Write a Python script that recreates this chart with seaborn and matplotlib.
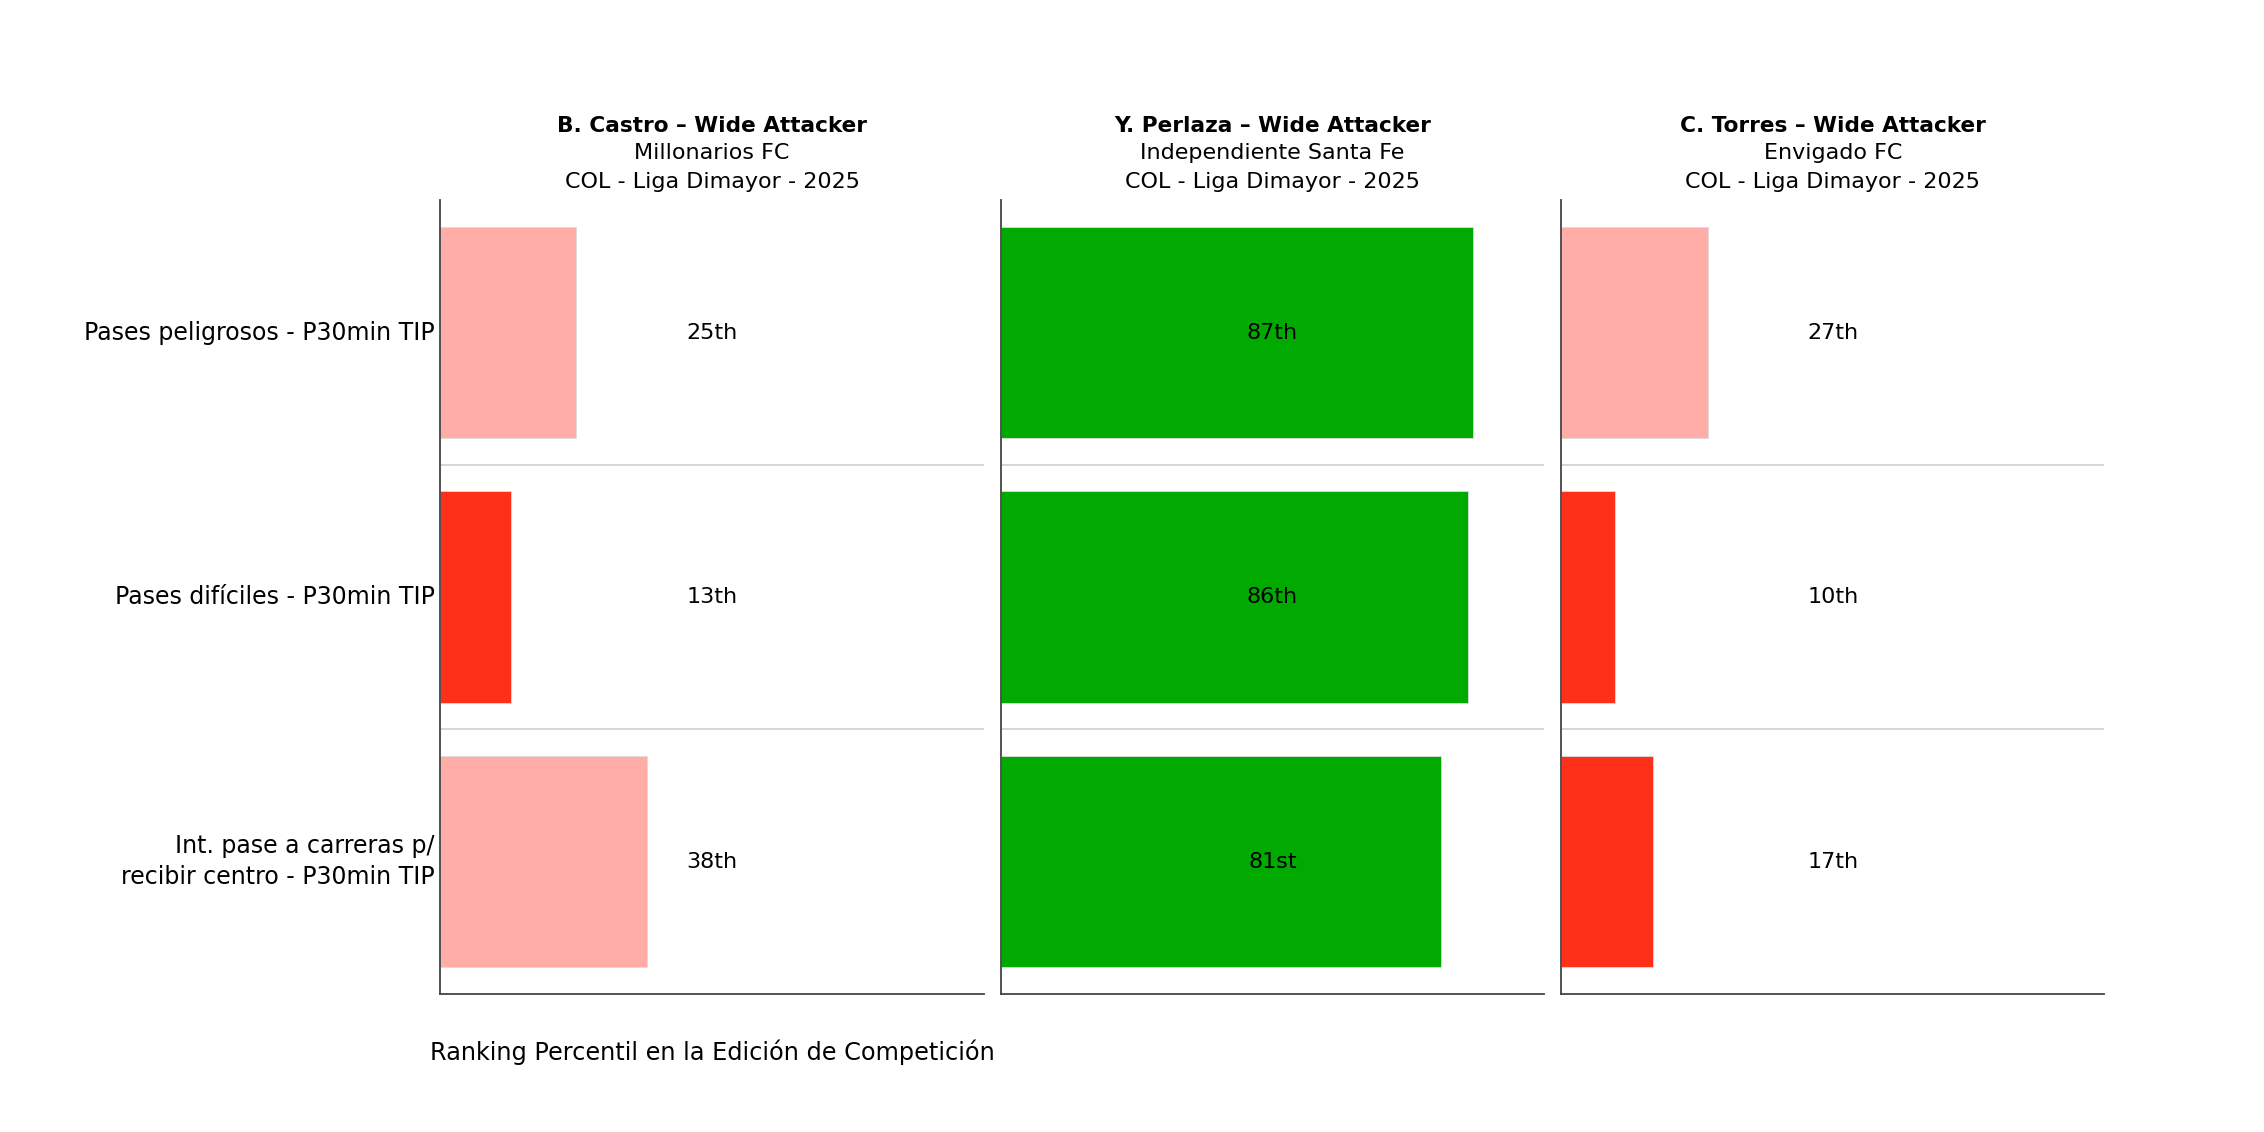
import matplotlib
matplotlib.use("Agg")
import matplotlib.pyplot as plt
import seaborn as sns
import pandas as pd

# === DATA ===
METRICS = ["Pases peligrosos - P30min TIP",
           "Pases difíciles - P30min TIP",
           "Int. pase a carreras p/\nrecibir centro - P30min TIP"]
PLAYERS = ["B. Castro – Wide Attacker", "Y. Perlaza – Wide Attacker", "C. Torres – Wide Attacker"]
TEAMS = ["Millonarios FC", "Independiente Santa Fe", "Envigado FC"]
COMPETITION = "COL - Liga Dimayor - 2025"
castro = [25, 13, 38]
perlaza = [87, 86, 81]
torres = [27, 10, 17]
VALUES = [castro, perlaza, torres]
XLABEL = "Ranking Percentil en la Edición de Competición"


def ordinal(n):
    if 10 <= n % 100 <= 20:
        suf = "th"
    else:
        suf = {1: "st", 2: "nd", 3: "rd"}.get(n % 10, "th")
    return f"{n}{suf}"


def bar_color(v):
    if v < 20:
        return "#ff301a"
    if v < 40:
        return "#ffada6"
    if v < 60:
        return "#bbbbbb"
    if v < 80:
        return "#7fd37f"
    return "#00aa00"


sns.set_style("white")
plt.rcParams["font.family"] = ["DejaVu Sans"]
plt.rcParams["text.color"] = "black"
plt.rcParams["ytick.color"] = "black"
plt.rcParams["axes.labelcolor"] = "black"

fig = plt.figure(figsize=(22.64, 11.32), dpi=100)
lefts = [0.1945, 0.442, 0.6895]
axes = [fig.add_axes([l, 0.122, 0.24, 0.701]) for l in lefts]

for i, ax in enumerate(axes):
    vals = VALUES[i]
    df = pd.DataFrame({"metric": METRICS, "value": vals})
    colors = [bar_color(v) for v in vals]
    sns.barplot(data=df, x="value", y="metric", hue="metric", palette=colors,
                legend=False, orient="h", width=0.8, saturation=1, ax=ax,
                edgecolor="#dddddd", linewidth=0.6)
    ax.set_xlim(0, 100)
    ax.set_ylim(2.5, -0.5)
    for y in [0.5, 1.5]:
        ax.axhline(y, color="#d0d0d0", lw=1.2, zorder=0)
    for j, v in enumerate(vals):
        ax.text(50, j, ordinal(v), ha="center", va="center", fontsize=16, color="black")
    ax.set_xticks([])
    ax.set_xlabel("")
    ax.set_ylabel("")
    ax.tick_params(axis="y", length=0, labelsize=17, pad=4)
    if i > 0:
        ax.set_yticklabels([])
    else:
        for t in ax.get_yticklabels():
            t.set_linespacing(1.35)
            t.set_va("center")
    for s in ["top", "right"]:
        ax.spines[s].set_visible(False)
    for s in ["left", "bottom"]:
        ax.spines[s].set_color("#444444")
        ax.spines[s].set_linewidth(1.3)
    ax.text(0.5, 1.011, f"{TEAMS[i]}\n{COMPETITION}", transform=ax.transAxes,
            ha="center", va="bottom", fontsize=16, linespacing=1.55)
    ax.text(0.5, 1.094, PLAYERS[i], transform=ax.transAxes, ha="center",
            va="center", fontsize=15.6, fontweight="bold")

axes[0].set_xlabel(XLABEL, fontsize=17.3, labelpad=33)

fig.savefig("out.png", dpi=100, facecolor="white")
